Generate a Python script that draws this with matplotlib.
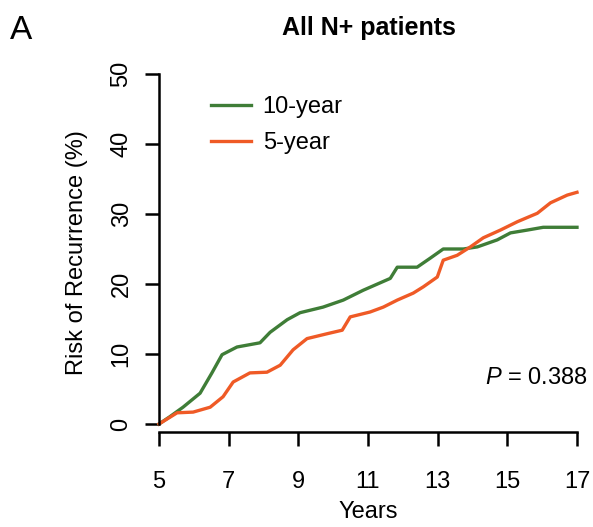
import matplotlib
matplotlib.use("Agg")
import matplotlib.pyplot as plt

# cumulative risk of recurrence after year 5 (%), read at event times
years_10 = [5.0, 5.3, 5.69, 6.18, 6.52, 6.81, 7.24, 7.9, 8.19, 8.68, 9.05, 9.71,
            10.29, 10.86, 11.64, 11.84, 12.41, 12.79, 13.16, 13.74, 14.14,
            14.71, 15.09, 15.57, 16.03, 17.0]
risk_10 = [0.0, 1.0, 2.4, 4.4, 7.3, 9.9, 11.0, 11.6, 13.1, 14.9, 15.9, 16.7,
           17.7, 19.1, 20.8, 22.4, 22.4, 23.7, 25.0, 25.0, 25.3,
           26.3, 27.3, 27.7, 28.1, 28.1]

years_5 = [5.0, 5.52, 5.98, 6.47, 6.84, 7.13, 7.61, 8.1, 8.48, 8.85, 9.25,
           9.83, 10.26, 10.49, 11.06, 11.44, 11.84, 12.3, 12.59, 12.99, 13.16,
           13.56, 13.94, 14.31, 14.8, 15.29, 15.86, 16.24, 16.72, 17.0]
risk_5 = [0.0, 1.6, 1.7, 2.4, 3.9, 6.0, 7.3, 7.4, 8.4, 10.6, 12.2,
          12.9, 13.4, 15.3, 16.0, 16.7, 17.7, 18.7, 19.6, 21.0, 23.4,
          24.1, 25.3, 26.6, 27.7, 28.9, 30.1, 31.6, 32.7, 33.1]

x_ticks = [5, 7, 9, 11, 13, 15, 17]
y_ticks = [0, 10, 20, 30, 40, 50]

plt.rcParams["font.family"] = ["Liberation Sans", "DejaVu Sans"]
plt.rcParams["mathtext.fontset"] = "custom"
plt.rcParams["mathtext.it"] = "Liberation Sans:italic"
plt.rcParams["mathtext.rm"] = "Liberation Sans"

GREEN = "#3f7d37"
ORANGE = "#ef5a26"

fig = plt.figure(figsize=(5.93, 5.27), dpi=100)
ax = fig.add_axes([0.2681, 0.1803, 0.7049, 0.6793])

ax.plot(years_10, risk_10, color=GREEN, lw=2.4, label="10-year", clip_on=False)
ax.plot(years_5, risk_5, color=ORANGE, lw=2.4, label="5-year", clip_on=False)

ax.set_xlim(5, 17)
ax.set_ylim(-1.14, 50)

# base-R style detached axes
for side in ("top", "right"):
    ax.spines[side].set_visible(False)
ax.spines["left"].set_bounds(0, 50)
ax.spines["bottom"].set_bounds(5, 17)
ax.spines["left"].set_linewidth(1.8)
ax.spines["bottom"].set_linewidth(1.8)

ax.set_xticks(x_ticks)
ax.set_yticks(y_ticks)
ax.tick_params(axis="both", length=10, width=1.8, labelsize=17)
ax.tick_params(axis="x", pad=18)
ax.tick_params(axis="y", pad=9)
for lab in ax.get_yticklabels():
    lab.set_rotation(90)
    lab.set_va("center")

ax.set_xlabel("Years", fontsize=17, labelpad=6)
ax.set_ylabel("Risk of Recurrence (%)", fontsize=17, labelpad=16)

ax.legend(loc="upper left", bbox_to_anchor=(0.073, 0.997), frameon=False,
          fontsize=17, handlelength=1.7, handletextpad=0.5, labelspacing=0.6)

ax.text(1.025, 0.151, "$\\it{P}$ = 0.388", transform=ax.transAxes,
        ha="right", va="center", fontsize=17)

fig.text(0.622, 0.947, "All N+ patients", ha="center", va="center",
         fontsize=18, fontweight="bold")
fig.text(0.036, 0.943, "A", ha="center", va="center", fontsize=24)

fig.savefig("out.png", dpi=100)
